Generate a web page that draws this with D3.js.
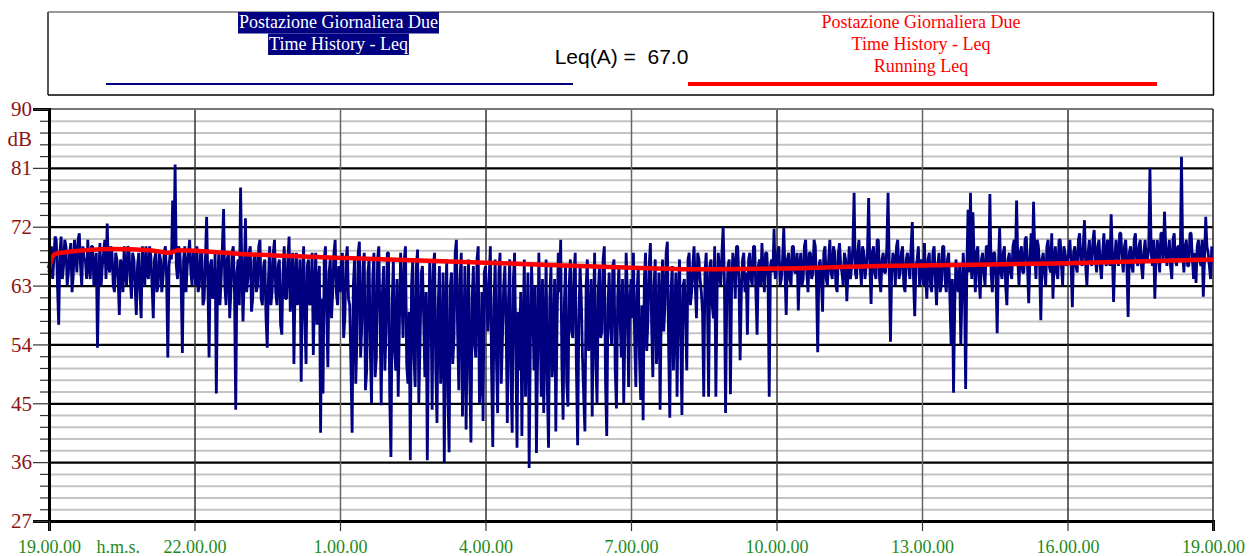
<!DOCTYPE html>
<html><head><meta charset="utf-8">
<script src="https://cdn.jsdelivr.net/npm/d3@7"></script>
<style>body{margin:0;background:#fff;}svg{display:block;}</style>
</head><body>
<script>
// Time history Leq (dB), 1.5-minute samples, one array per 3-hour block
const block19_22 = [65,67,69,64,67,70.5,70,63,57,68,70.5,64,66,70,69,63,65,68,69.5,62,64.5,70,68,65,70,71,66,63,69,67,67,64,70,66,64,69,69,63,66,68,53.5,64,69.5,63,66,68,70,64,72.5,66,65,69,68,63,62,68,67,64,58.5,67,66,62,69,65,63,69,68.5,64,61,68,67,63,58.5,66,68,62,58,69,66,63,69,65,64,69,67.5,63,58,67,68,62,63,68,67,62,64,68,69,64,52,66,68,67,76,68,81.5,66,64,69,68,63,52.7,67,69,62,66,68,70,65,63,68];
const block22_01 = [66,63,69,62,63,68,68,60,61,67,73.5,64,52,66,67,61,62,68,46.5,63,68,60,64,69,74.7,63,60,67,68,58,62,68,69,62,44,65,67,60,78,66,57.5,64,73.3,62,64,68,69,59,61,67,68,62,63,69,70,61,60,66,67,58,53.5,64,69,60,62,68,70,62,60,66,67,57,55.5,65,69,61,61,67,70.5,59,63,68,51,64,68,60,62,67,48.3,63,69,58,51,66,67,60,61,68,52.4,62,68,57,63,66,40.5,61,46.5,67,69,59,50.5,65,67,58,62,68,70,62,60,66];
const block01_04 = [62,66,68,55,58,67,69,61,60,51,40.5,63,67,48,55,68,69.7,52,57,66,68,47,50,65,67,53,45,64,68,49,52,67,69,58,44.7,62,66,50,56,68,68,46,36.8,60,67,53,50,64,46,57,68,62,55,67,69,51,48,59,36.3,63,67,52,47.5,66,68.5,45,54,65,66,58,49,62,36.3,55,67,61,44,66,68,50,42,60,66,48,52,65,35.9,58,67,46,37.5,63,65,51,55,68,70,56,47,64,68,43,53,66,41,57,67,49,39,61,66,54,52,67,69,45,48,62,42.3,65];
const block04_07 = [66,61,56,64,69,50,38.3,60,67,52,43.5,65,68,48,55,63,66,57,42,61,67,49,40.5,64,68,53,38.2,59,50,62,40,56,67,46,56,65,35.1,54,66,60,50,63,37.4,52,68,58,46,64,43.5,55,67,47,38.2,61,66,49,53,64,40.7,57,68,62,70,51,42.5,60,66,48,44.5,63,67,56,55,65,68,50,38.6,58,66,61,52,46,40.7,63,67,53,55,64,43,59,68,51,45,62,66,55,56,67,69,48,40,60,65,57,54,66,67,50,44.2,61,66,58,52,64,45,56,68,62,47.5,60];
const block07_10 = [64,58,68,55,47.5,62,66,52,45.5,60,42.4,64,68,53,58,66,69.5,57,49,63,67,51,55,65,44,60,67,56,60,68,69.7,54,42.8,62,66,50,58,65,46,61,67,55,43.2,63,64,58,50,67,68,60,62,66,69,63,58,68,67,64,62,59,46,65,68,61,46,66,67,60,58,69,46,62,68,65,63,68,72,64,43.5,61,66,67,46.4,63,68,66,61,69,69,64,51.6,62,67,68,62,65,55.5,67,68,64,63,69,69,62,55.5,66,67,63,69.5,65,62,68,68,64,46,66,67,65,71.7,64];
const block10_13 = [66,68,69,63,64,67,71.8,65,58.5,67,68,64,63,69,69,65,65,68,59.2,66,68,63,64,69,70,65,62,68,68,64,65,70,69,63,52.8,66,67,64,59,68,69,64,63,67,70,65,64,69,68,63,62,68,69.5,66,65,63,68,67,60.6,65,69,64,66,69,77.2,65,64,68,70,66,63,69,68,64,66,68,76.4,66,60.2,68,69,65,64,70,70,64,62,67,68,65,65,69,77.2,66,54.4,65,68,67,63,69,70,64,65,68,69,63,62,67,68,66,64,69,72.7,64,58.3,66,67,69,63,67];
const block13_16 = [66,63,69.5,64,61,67,68,63,62,68,69,64,60,66,68,62,63,69,69,64,62,67,68,61,54,64,46.6,60,67,63,62,66,54,62,68,64,47.2,66,74.6,65,77.2,64,74.2,67,62,68,69,64,61,67,68,65,63,69,69,66,77,65,62,68,68,64,55.7,66,71.8,65,64,68,69,63,60,67,68,65,64,69,70,66,76,67,63,68,69,65,65,70,70.5,66,60.3,67,71,66,75.8,68,64,70,69,66,57.7,67,68,65,63,69,70,66,65,71,61,67,69,65,64,70,70,66,63,69,68,66];
const block16_19 = [67,68,70,66,59.7,68,69,66,65,70,71,67,66,69,73,66,63,68,70,67,66,70,71.5,67,65,69,70,66,64,68,71,67,66,70,69,66,73.9,68,60.5,67,70,68,66,71,71,67,65,69,70,66,58.2,68,69,66,65,70,71,67,66,69,70,66,64,68,70,67,67,69,81,68,66,70,61,67,70,68,65,71,71,67,74.3,69,66,68,70,66,64,70,71,67,66,69,69,67,82.7,68,65,69,70,66,66,71,71,67,64,68,63.4,69,70,67,66,70,61.3,67,73.5,69,68,66,64,69];
const blocks = [block19_22,block22_01,block01_04,block04_07,block07_10,block10_13,block13_16,block16_19];
const blockHours = 3;

// Running Leq (hours from 19:00, dB)
const runHours = [0,0.04,0.12,0.33,0.74,1.3,2.08,2.49,2.66,4.04,6.1,9.0,12.2,13.4,15.0,17.1,21.0,24];
const runLeq   = [65.6,66.8,67.8,68.1,68.4,68.6,68.4,68.0,68.4,67.8,67.2,66.5,65.7,65.5,65.6,66.0,66.4,67.0];

const yMajorTicks = [27,36,45,54,63,72,81,90];
const xTickHours = [0,3,6,9,12,15,18,21,24];
const xTickLabels = ["19.00.00","22.00.00","1.00.00","4.00.00","7.00.00","10.00.00","13.00.00","16.00.00","19.00.00"];
const leqTotal = "67.0";
const seriesTitle = ["Postazione Giornaliera Due","Time History - Leq"];
const runTitle = ["Postazione Giornaliera Due","Time History - Leq","Running Leq"];

const W = 1255, H = 556;
const L = 49, R = 1213, T = 109, B = 521;
const SERIF = "'Liberation Serif','Times New Roman',serif";
const SANS = "'Liberation Sans',Arial,sans-serif";

const history = [];
blocks.forEach((b,k)=>b.forEach((v,i)=>history.push({t:k*blockHours + i*blockHours/b.length, v})));
const running = runHours.map((t,i)=>({t, v:runLeq[i]}));

const svg = d3.select("body").append("svg").attr("width",W).attr("height",H);
const x = d3.scaleLinear().domain([0,24]).range([L,R]);
const y = d3.scaleLinear().domain([27,90]).range([B,T]);

const minorTicks = d3.range(0,36).map(i=>+(27+i*1.8).toFixed(1)).filter((d,i)=>i%5!==0);

// minor horizontal grid
svg.append("g").attr("transform",`translate(${L},0)`)
  .call(d3.axisLeft(y).tickValues(minorTicks).tickSize(-(R-L)).tickFormat(""))
  .call(g=>g.select(".domain").remove())
  .selectAll("line").attr("stroke","#c4c4c4").attr("stroke-width",2);
// major horizontal grid
svg.append("g").attr("transform",`translate(${L},0)`)
  .call(d3.axisLeft(y).tickValues(yMajorTicks.slice(0,-1)).tickSize(-(R-L)).tickFormat(""))
  .call(g=>g.select(".domain").remove())
  .selectAll("line").attr("stroke","#000").attr("stroke-width",2.2);
// vertical grid
svg.append("g").attr("transform",`translate(0,${B})`)
  .call(d3.axisBottom(x).tickValues(xTickHours.slice(1,-1)).tickSize(-(B-T)).tickFormat(""))
  .call(g=>g.select(".domain").remove())
  .selectAll("line").attr("stroke",(d,i)=>i%2===0?"#333":"#666").attr("stroke-width",1.5);
// top frame
svg.append("line").attr("x1",L).attr("x2",R).attr("y1",T).attr("y2",T).attr("stroke","#777").attr("stroke-width",2);
svg.append("line").attr("x1",R).attr("x2",R).attr("y1",T).attr("y2",B).attr("stroke","#222").attr("stroke-width",1.5);

// data
svg.append("path").datum(history)
  .attr("fill","none").attr("stroke","#000080").attr("stroke-width",2.8).attr("stroke-linejoin","miter").attr("stroke-miterlimit",1)
  .attr("d",d3.line().x(d=>x(d.t)).y(d=>y(d.v)));
svg.append("path").datum(running)
  .attr("fill","none").attr("stroke","#ff0000").attr("stroke-width",4.5)
  .attr("d",d3.line().curve(d3.curveMonotoneX).x(d=>x(d.t)).y(d=>y(d.v)));

// left axis: minor ticks
svg.append("g").attr("transform",`translate(${L},0)`)
  .call(d3.axisLeft(y).tickValues(minorTicks).tickSize(9).tickFormat(""))
  .call(g=>g.select(".domain").remove())
  .selectAll("line").attr("stroke","#333").attr("stroke-width",1.2);
// left axis: major ticks & labels
const ya = svg.append("g").attr("transform",`translate(${L},0)`)
  .call(d3.axisLeft(y).tickValues(yMajorTicks).tickSize(16).tickPadding(1));
ya.select(".domain").attr("stroke","#000").attr("stroke-width",3);
ya.selectAll("line").attr("stroke","#333").attr("stroke-width",1.2);
ya.selectAll("text").attr("fill","#8b1414").style("font-family",SERIF).style("font-size","21px");
svg.append("text").attr("x",32).attr("y",y(85.5)).attr("dy","0.35em").attr("text-anchor","end")
  .attr("fill","#8b1414").style("font-family",SERIF).style("font-size","21px").text("dB");

// bottom axis
const xa = svg.append("g").attr("transform",`translate(0,${B})`)
  .call(d3.axisBottom(x).tickValues(xTickHours).tickSize(10).tickPadding(9).tickFormat((d,i)=>xTickLabels[i]));
xa.select(".domain").attr("stroke","#000").attr("stroke-width",3);
xa.selectAll("line").attr("stroke","#333").attr("stroke-width",1.2);
xa.selectAll("text").attr("fill","#1e8b1e").style("font-family",SERIF).style("font-size","18px");
svg.append("text").attr("x",x(1.43)).attr("y",553).attr("text-anchor","middle")
  .attr("fill","#1e8b1e").style("font-family",SERIF).style("font-size","18px").text("h.m.s.");

// legend box
const lg = svg.append("g");
lg.append("line").attr("x1",48).attr("x2",1213).attr("y1",12).attr("y2",12).attr("stroke","#777").attr("stroke-width",1.5);
lg.append("line").attr("x1",48).attr("x2",48).attr("y1",12).attr("y2",95).attr("stroke","#555").attr("stroke-width",2);
lg.append("line").attr("x1",48).attr("x2",1214).attr("y1",95).attr("y2",95).attr("stroke","#000").attr("stroke-width",1.5);
lg.append("line").attr("x1",1213.5).attr("x2",1213.5).attr("y1",12).attr("y2",95).attr("stroke","#000").attr("stroke-width",1.5);

seriesTitle.forEach((s,i)=>{
  const t = lg.append("text").attr("x",338.5).attr("y",28+i*22).attr("text-anchor","middle")
    .attr("fill","#fff").style("font-family",SERIF).style("font-size","18px").text(s);
  const w = t.node().getComputedTextLength();
  lg.insert("rect","text").attr("x",338.5-w/2-1).attr("y",12+i*21.5).attr("width",w+2).attr("height",21.5).attr("fill","#000080");
});
lg.append("line").attr("x1",106).attr("x2",573).attr("y1",84).attr("y2",84).attr("stroke","#000080").attr("stroke-width",2.2);

runTitle.forEach((s,i)=>{
  lg.append("text").attr("x",921).attr("y",27.5+i*22).attr("text-anchor","middle")
    .attr("fill","#ff0000").style("font-family",SERIF).style("font-size","18px").text(s);
});
lg.append("line").attr("x1",688).attr("x2",1157).attr("y1",84).attr("y2",84).attr("stroke","#ff0000").attr("stroke-width",4);

lg.append("text").attr("x",621.5).attr("y",64).attr("text-anchor","middle").attr("fill","#000")
  .style("font-family",SANS).style("font-size","21px").attr("xml:space","preserve").text("Leq(A) =\u00a0 " + leqTotal);
</script>
</body></html>
